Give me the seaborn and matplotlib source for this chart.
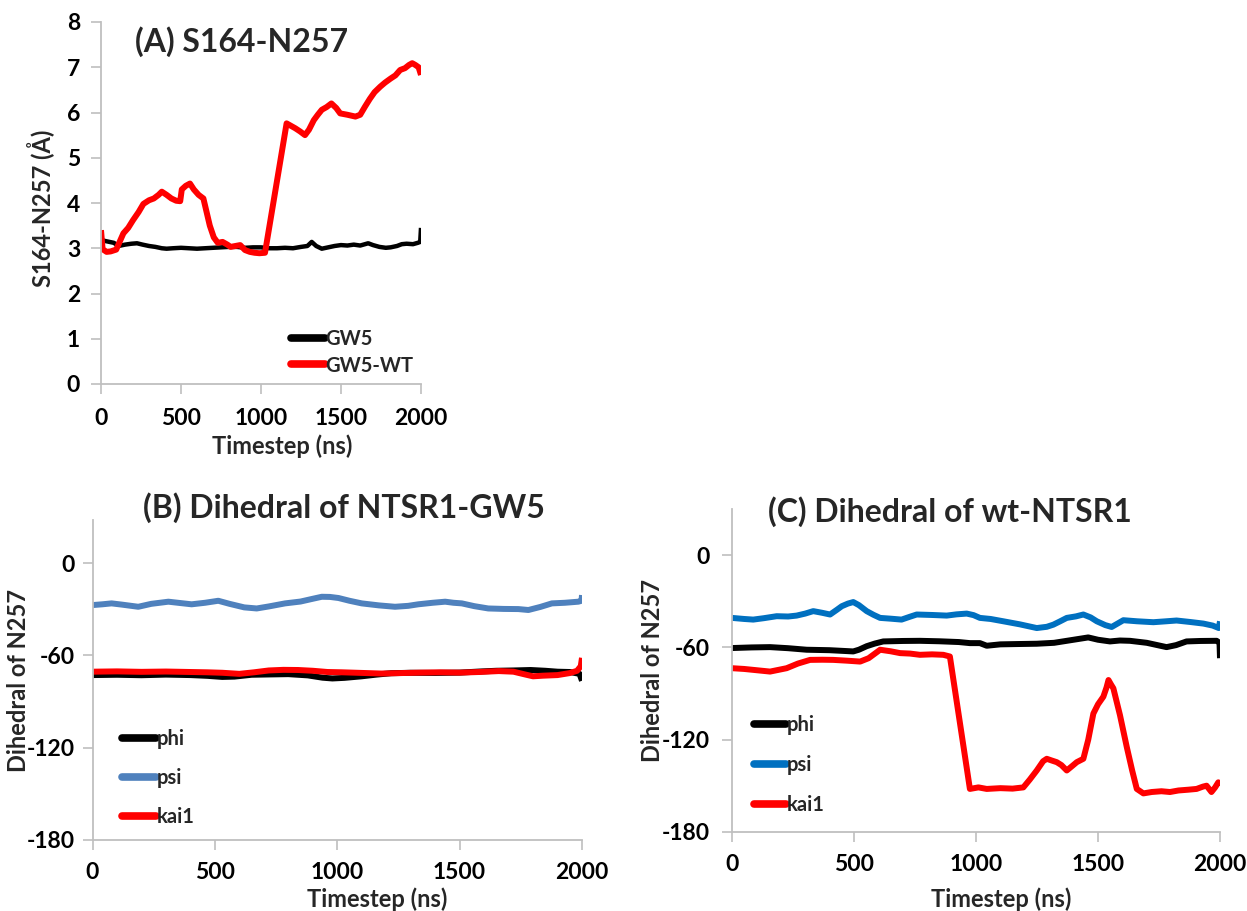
import numpy as np
import matplotlib
matplotlib.use("Agg")
import matplotlib.pyplot as plt
import seaborn as sns

# ---------------- data ----------------
# (A) S164-N257 distance (Å)
tA_gw5 = [0, 40, 80, 110, 150, 190, 225, 260, 300, 340,
          380, 410, 450, 500, 550, 600, 650, 700, 750, 800,
          850, 900, 950, 1000, 1050, 1100, 1150, 1200, 1250, 1290,
          1317, 1345, 1380, 1420, 1460, 1500, 1540, 1580, 1620, 1670,
          1700, 1740, 1780, 1810, 1850, 1880, 1910, 1950, 1980, 1995,
          2000]
vA_gw5 = [3.18, 3.15, 3.12, 3.05, 3.08, 3.10, 3.11, 3.08, 3.05, 3.03,
          3.00, 2.99, 3.00, 3.01, 3.00, 2.99, 3.00, 3.01, 3.02, 3.03,
          3.03, 3.01, 3.02, 3.02, 3.00, 3.00, 3.01, 3.00, 3.03, 3.05,
          3.14, 3.05, 2.99, 3.02, 3.05, 3.07, 3.06, 3.08, 3.06, 3.11,
          3.07, 3.03, 3.01, 3.02, 3.05, 3.09, 3.10, 3.09, 3.12, 3.14,
          3.45]

tA_wt = [0, 10, 35, 60, 95, 140, 170, 200, 235, 265,
         300, 330, 360, 380, 410, 440, 470, 495, 505, 530,
         556, 580, 610, 640, 660, 680, 705, 730, 760, 790,
         810, 840, 870, 900, 930, 960, 990, 1025, 1160, 1190,
         1215, 1245, 1275, 1300, 1330, 1355, 1380, 1410, 1440, 1470,
         1495, 1540, 1590, 1620, 1650, 1680, 1710, 1745, 1775, 1810,
         1840, 1870, 1900, 1925, 1945, 1965, 1985, 2000]
vA_wt = [3.40, 2.98, 2.92, 2.93, 2.97, 3.33, 3.45, 3.62, 3.80, 3.98,
         4.06, 4.10, 4.18, 4.25, 4.18, 4.10, 4.05, 4.04, 4.30, 4.38,
         4.43, 4.30, 4.18, 4.10, 3.80, 3.50, 3.24, 3.12, 3.14, 3.08,
         3.03, 3.05, 3.07, 2.96, 2.92, 2.90, 2.89, 2.90, 5.76, 5.70,
         5.65, 5.58, 5.50, 5.62, 5.83, 5.95, 6.06, 6.12, 6.20, 6.10,
         5.98, 5.95, 5.91, 5.95, 6.13, 6.30, 6.45, 6.57, 6.66, 6.75,
         6.82, 6.94, 6.98, 7.05, 7.09, 7.05, 7.00, 6.83]

# (B) dihedrals of N257 in NTSR1-GW5
tB_phi = [0, 100, 200, 300, 400, 470, 530, 580, 650, 720,
          800, 880, 940, 980, 1030, 1100, 1160, 1220, 1300, 1400,
          1500, 1580, 1650, 1720, 1790, 1850, 1900, 1950, 1990, 2000]
vB_phi = [-72.8, -72.6, -72.9, -72.5, -72.8, -73.3, -74.0, -73.8, -72.6, -72.4,
          -72.2, -73.0, -74.5, -75.0, -74.6, -73.6, -72.5, -71.6, -71.3, -71.4,
          -71.2, -70.5, -70.0, -69.8, -69.5, -70.0, -70.6, -70.8, -72.0, -76.5]

tB_psi = [0, 40, 78, 120, 187, 240, 310, 360, 405, 460,
          514, 560, 620, 671, 720, 787, 850, 900, 937, 970,
          1005, 1050, 1100, 1170, 1236, 1290, 1331, 1390, 1441, 1475,
          1509, 1560, 1617, 1680, 1740, 1781, 1830, 1877, 1930, 1985,
          1998, 2000]
vB_psi = [-27.3, -26.8, -26.2, -27.0, -28.4, -26.5, -25.1, -26.0, -26.8, -25.8,
          -24.5, -26.5, -28.8, -29.5, -28.2, -26.2, -25.0, -23.2, -21.9, -22.0,
          -22.7, -24.5, -26.2, -27.5, -28.4, -27.8, -26.8, -25.8, -25.1, -25.8,
          -26.2, -28.0, -29.5, -29.8, -29.9, -30.5, -28.5, -26.2, -25.8, -25.1,
          -24.5, -20.8]

tB_kai = [0, 100, 200, 300, 400, 470, 530, 600, 660, 720,
          780, 840, 900, 960, 1020, 1100, 1180, 1260, 1340, 1420,
          1500, 1580, 1660, 1720, 1770, 1800, 1840, 1900, 1950, 1980,
          1995, 2000]
vB_kai = [-70.6, -70.4, -70.7, -70.5, -70.8, -71.0, -71.3, -72.0, -71.0, -69.8,
          -69.4, -69.5, -70.0, -70.8, -71.0, -71.4, -71.8, -71.5, -71.2, -71.0,
          -71.2, -70.8, -70.2, -70.6, -72.5, -73.6, -73.2, -72.8, -71.5, -70.0,
          -67.0, -61.6]

# (C) dihedrals of N257 in wt-NTSR1
tC_phi = [0, 80, 156, 230, 306, 400, 497, 520, 552, 585,
          620, 700, 770, 850, 930, 975, 1016, 1044, 1100, 1170,
          1249, 1320, 1400, 1460, 1500, 1549, 1590, 1631, 1700, 1781,
          1820, 1863, 1920, 1986, 1998, 2000]
vC_phi = [-60.4, -60.0, -59.8, -60.5, -61.5, -61.8, -62.6, -61.5, -59.2, -57.5,
          -56.1, -55.8, -55.7, -56.0, -56.5, -57.2, -57.2, -58.9, -58.0, -57.8,
          -57.6, -57.0, -55.0, -53.5, -55.0, -56.1, -55.5, -55.7, -57.0, -59.8,
          -58.5, -56.1, -55.8, -55.7, -57.0, -67.0]

tC_psi = [0, 50, 87, 130, 183, 230, 265, 300, 333, 370,
          402, 430, 450, 475, 497, 520, 552, 580, 607, 650,
          695, 730, 757, 820, 880, 920, 962, 990, 1016, 1060,
          1112, 1180, 1249, 1290, 1317, 1345, 1372, 1410, 1440, 1470,
          1495, 1530, 1556, 1580, 1604, 1660, 1727, 1780, 1822, 1880,
          1932, 1970, 1995, 2000]
vC_psi = [-40.8, -41.5, -41.9, -41.0, -39.7, -39.9, -39.3, -38.0, -36.4, -37.5,
          -38.6, -35.5, -33.2, -31.5, -30.5, -32.5, -36.4, -38.8, -40.8, -41.3,
          -41.9, -40.0, -38.6, -38.9, -39.3, -38.5, -38.0, -39.0, -40.8, -41.5,
          -43.0, -45.0, -47.4, -46.6, -45.2, -43.0, -40.8, -39.8, -38.6, -40.5,
          -43.0, -45.5, -46.7, -44.5, -42.3, -43.0, -43.6, -43.0, -42.5, -43.5,
          -44.5, -45.8, -47.4, -43.0]

tC_kai = [0, 50, 100, 156, 224, 270, 320, 370, 415, 470,
          525, 560, 590, 607, 650, 689, 730, 770, 820, 866,
          893, 975, 1010, 1044, 1100, 1150, 1194, 1220, 1249, 1275,
          1290, 1310, 1331, 1350, 1372, 1395, 1413, 1440, 1460, 1481,
          1500, 1522, 1535, 1543, 1553, 1563, 1590, 1618, 1640, 1659,
          1686, 1720, 1760, 1795, 1830, 1870, 1904, 1930, 1945, 1965,
          1980, 1993, 2000]
vC_kai = [-73.5, -74.0, -74.8, -75.7, -73.5, -70.5, -68.1, -68.0, -68.1, -68.6,
          -69.2, -67.0, -63.5, -61.5, -62.5, -63.7, -64.0, -64.8, -64.5, -64.8,
          -65.9, -152.0, -151.0, -152.0, -151.5, -151.8, -151.0, -146.0, -140.0, -134.0,
          -132.4, -133.5, -134.6, -136.5, -140.0, -137.0, -134.6, -132.4, -120.0, -103.0,
          -97.0, -92.0, -86.0, -81.2, -84.0, -86.6, -104.0, -124.8, -140.0, -152.0,
          -154.9, -154.0, -153.5, -154.0, -153.0, -152.5, -152.0, -150.5, -149.9, -154.0,
          -151.0, -147.7, -149.5]

x_ticks = [0, 500, 1000, 1500, 2000]
yA_ticks = [0, 1, 2, 3, 4, 5, 6, 7, 8]
yBC_ticks = [-180, -120, -60, 0]

# ---------------- style ----------------
sns.set_style("white")
plt.rcParams["font.family"] = ["Lato", "DejaVu Sans"]
plt.rcParams["font.weight"] = "bold"
plt.rcParams["axes.unicode_minus"] = False

RED = "#ff0000"
BLACK = "#000000"
BLUE_B = "#4f81bd"
BLUE_C = "#0070c0"
AXIS_GRAY = "#bfbfbf"
W = 1247.0
H = 911.0
TICK_FS = 16.5
LABEL_FS = 17
TITLE_FS = 23
LEGEND_FS = 14.5

fig = plt.figure(figsize=(12.47, 9.11), dpi=100)


def px_axes(x0, y0, x1, y1):
    """Axes from pixel box (left, top, right, bottom)."""
    return fig.add_axes([x0 / W, 1 - y1 / H, (x1 - x0) / W, (y1 - y0) / H])


def style_axes(ax, xpad, ypad):
    for s in ("top", "right"):
        ax.spines[s].set_visible(False)
    for s in ("left", "bottom"):
        ax.spines[s].set_color(AXIS_GRAY)
        ax.spines[s].set_linewidth(1.3)
    ax.tick_params(axis="both", which="major", direction="out", length=7,
                   width=1.2, color=AXIS_GRAY, labelsize=TICK_FS,
                   labelcolor="black", bottom=True, left=True)
    ax.tick_params(axis="x", pad=xpad)
    ax.tick_params(axis="y", pad=ypad)
    for lab in ax.get_xticklabels() + ax.get_yticklabels():
        lab.set_fontweight("bold")
    ax.grid(False)


def draw(ax, t, v, color, lw, label):
    sns.lineplot(x=np.asarray(t, float), y=np.asarray(v, float), ax=ax,
                 color=color, linewidth=lw, label=label, sort=False,
                 estimator=None, solid_joinstyle="round",
                 solid_capstyle="butt")


def legend(ax, x, y, spacing, hlen):
    leg = ax.legend(loc="center left", bbox_to_anchor=(x, y), frameon=False,
                    borderpad=0, borderaxespad=0, handlelength=hlen,
                    handletextpad=0.05, labelspacing=spacing,
                    prop={"weight": "bold", "size": LEGEND_FS})
    for line in leg.get_lines():
        line.set_linewidth(5.5)
        line.set_solid_capstyle("round")


# ---------------- (A) ----------------
axA = px_axes(101, 22, 421, 384)
draw(axA, tA_gw5, vA_gw5, BLACK, 3.2, "GW5")
draw(axA, tA_wt, vA_wt, RED, 4.3, "GW5-WT")
axA.set_xlim(0, 2000)
axA.set_ylim(0, 8)
axA.set_xticks(x_ticks)
axA.set_yticks(yA_ticks)
style_axes(axA, xpad=10, ypad=8)
axA.set_xlabel("Timestep (ns)", fontsize=LABEL_FS, fontweight="bold")
axA.set_ylabel("S164-N257 (Å)", fontsize=LABEL_FS, fontweight="bold")
axA.xaxis.set_label_coords(0.565, -0.14)
axA.yaxis.set_label_coords(-0.145, 0.485)
legend(axA, 0.595, 0.087, 0.3, 1.65)
fig.text(242 / W, 1 - 42 / H, "(A) S164-N257", ha="center", va="center",
         fontsize=TITLE_FS, fontweight="bold")

# ---------------- (B) ----------------
axB = px_axes(92.5, 520, 582, 840)
draw(axB, tB_phi, vB_phi, BLACK, 4.3, "phi")
draw(axB, tB_psi, vB_psi, BLUE_B, 4.3, "psi")
draw(axB, tB_kai, vB_kai, RED, 4.3, "kai1")
axB.set_xlim(0, 2000)
axB.set_ylim(-180, 28)
axB.set_xticks(x_ticks)
axB.set_yticks(yBC_ticks)
style_axes(axB, xpad=9, ypad=6)
axB.set_xlabel("Timestep (ns)", fontsize=LABEL_FS, fontweight="bold")
axB.set_ylabel("Dihedral of N257", fontsize=LABEL_FS, fontweight="bold")
axB.xaxis.set_label_coords(0.581, -0.148)
axB.yaxis.set_label_coords(-0.128, 0.5)
legend(axB, 0.06, 0.194, 0.95, 1.7)
fig.text(344 / W, 1 - 508 / H, "(B) Dihedral of NTSR1-GW5", ha="center",
         va="center", fontsize=TITLE_FS, fontweight="bold")

# ---------------- (C) ----------------
axC = px_axes(732, 509, 1220, 832)
draw(axC, tC_phi, vC_phi, BLACK, 4.3, "phi")
draw(axC, tC_psi, vC_psi, BLUE_C, 4.3, "psi")
draw(axC, tC_kai, vC_kai, RED, 4.3, "kai1")
axC.set_xlim(0, 2000)
axC.set_ylim(-180, 30)
axC.set_xticks(x_ticks)
axC.set_yticks(yBC_ticks)
style_axes(axC, xpad=9, ypad=9)
axC.set_xlabel("Timestep (ns)", fontsize=LABEL_FS, fontweight="bold")
axC.set_ylabel("Dihedral of N257", fontsize=LABEL_FS, fontweight="bold")
axC.xaxis.set_label_coords(0.551, -0.172)
axC.yaxis.set_label_coords(-0.14, 0.5)
legend(axC, 0.045, 0.207, 1.0, 1.6)
fig.text(950 / W, 1 - 512 / H, "(C) Dihedral of wt-NTSR1", ha="center",
         va="center", fontsize=TITLE_FS, fontweight="bold")

fig.savefig("out.png", dpi=100, facecolor="white")
